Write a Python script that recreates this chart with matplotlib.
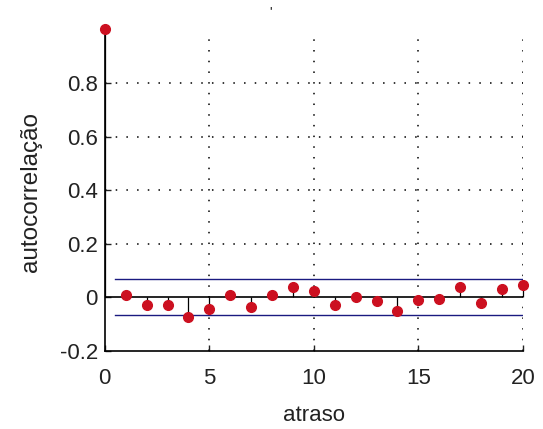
import numpy as np
import matplotlib.pyplot as plt

# sample autocorrelation
lags = np.arange(0, 21)
acf = [1.0, 0.01, -0.029, -0.029, -0.075, -0.044, 0.009, -0.037, 0.009, 0.037,
       0.022, -0.029, 0.0, -0.012, -0.05, -0.009, -0.007, 0.037, -0.021, 0.03, 0.046]
bound = 0.067
bound_x = [0.5, 20]

plt.rcParams['font.family'] = ['Liberation Sans', 'DejaVu Sans']

fig = plt.figure(figsize=(5.43, 4.29), dpi=100)
ax = fig.add_axes([0.193, 0.182, 0.770, 0.740])

ax.set_xlim(0, 20)
ax.set_ylim(-0.2, 0.985)
ax.set_xticks([0, 5, 10, 15, 20])
ax.set_yticks([-0.2, 0, 0.2, 0.4, 0.6, 0.8])
ax.set_yticklabels(['-0.2', '0', '0.2', '0.4', '0.6', '0.8'])

# dotted grid like MATLAB
dots = (0, (1, 6))
for xv in [5, 10, 15, 20]:
    ax.plot([xv, xv], [-0.2, 0.985], color='black', linestyle=dots, linewidth=1.1, zorder=1)
for yv in [0.2, 0.4, 0.6, 0.8]:
    ax.plot([0, 20], [yv, yv], color='black', linestyle=dots, linewidth=1.1, zorder=1)

# stems
ax.vlines(lags, 0, acf, color='black', linewidth=0.9, zorder=2, clip_on=False)
ax.plot([0, 20], [0, 0], color='black', linewidth=1.2, zorder=2)
ax.plot(lags, acf, 'o', color='#cc1020', markersize=7, zorder=4, clip_on=False)

# confidence bounds
ax.plot(bound_x, [bound, bound], color='#1a1a80', linewidth=1.0, zorder=3)
ax.plot(bound_x, [-bound, -bound], color='#1a1a80', linewidth=1.0, zorder=3)

for s in ['top', 'right']:
    ax.spines[s].set_visible(False)
ax.spines['left'].set_linewidth(1.2)
ax.spines['bottom'].set_linewidth(1.2)
ax.tick_params(direction='in', length=4, width=1, labelsize=16, colors='#222222')
ax.tick_params(axis='x', pad=12)
ax.tick_params(axis='y', pad=5)

ax.set_xlabel('atraso', fontsize=16, labelpad=12, color='#222222')
ax.set_ylabel('autocorrelação', fontsize=17.5, labelpad=13, color='#222222')
fig.text(0.499, 0.965, "'", fontsize=9, ha='center')

fig.savefig('out.png', dpi=100)
